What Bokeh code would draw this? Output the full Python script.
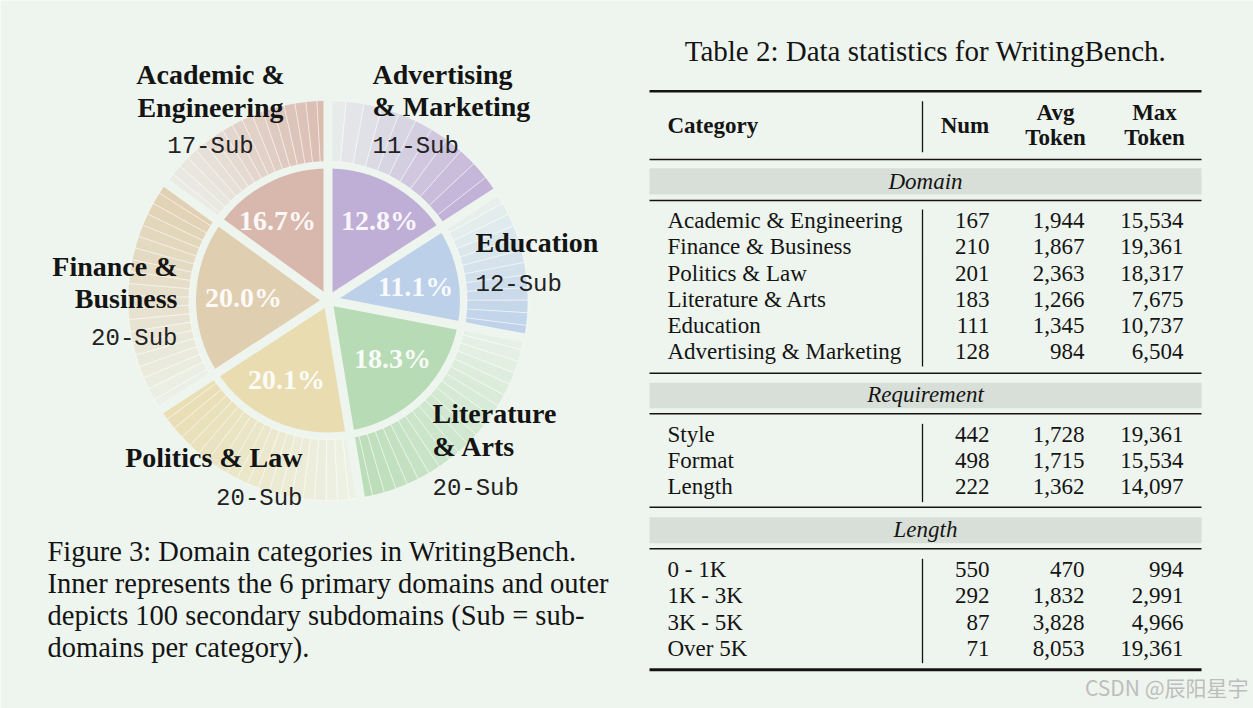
import numpy as np
from bokeh.plotting import figure
from bokeh.models import Range1d
from bokeh.core.properties import value
from bokeh.embed import file_html
from bokeh.resources import INLINE

# ---------------- data ----------------
# pie, clockwise from 12 o'clock
domains = ["Advertising & Marketing", "Education", "Literature & Arts",
           "Politics & Law", "Finance & Business", "Academic & Engineering"]
domain_label_lines = [["Advertising", "& Marketing"], ["Education"], ["Literature", "& Arts"],
                      ["Politics & Law"], ["Finance &", "Business"], ["Academic &", "Engineering"]]
domain_pct_labels = ["12.8%", "11.1%", "18.3%", "20.1%", "20.0%", "16.7%"]
wedge_share = [15.9, 12.1, 19.4, 18.4, 19.2, 15.0]      # share of the circle as drawn (%)
sub_counts = [11, 12, 20, 20, 20, 17]
domain_colors = ["#bfaed6", "#bcd0e9", "#b7dbb5", "#e8dcb0", "#e0ceb0", "#d8b8ad"]

caption_lines = ["Figure 3: Domain categories in WritingBench.",
                 "Inner represents the 6 primary domains and outer",
                 "depicts 100 secondary subdomains (Sub = sub-",
                 "domains per category)."]

table_title = "Table 2: Data statistics for WritingBench."
section_names = ["Domain", "Requirement", "Length"]
domain_rows = ["Academic & Engineering", "Finance & Business", "Politics & Law",
               "Literature & Arts", "Education", "Advertising & Marketing"]
domain_num = [167, 210, 201, 183, 111, 128]
domain_avg = [1944, 1867, 2363, 1266, 1345, 984]
domain_max = [15534, 19361, 18317, 7675, 10737, 6504]
req_rows = ["Style", "Format", "Length"]
req_num = [442, 498, 222]
req_avg = [1728, 1715, 1362]
req_max = [19361, 15534, 14097]
len_rows = ["0 - 1K", "1K - 3K", "3K - 5K", "Over 5K"]
len_num = [550, 292, 87, 71]
len_avg = [470, 1832, 3828, 8053]
len_max = [994, 2991, 4966, 19361]
watermark = "CSDN @辰阳星宇"

# ---------------- style / layout ----------------
BG = "#eef5ee"
INK = "#141414"
SERIF = value("Liberation Serif")
MONO = value("Liberation Mono")
W, H = 1253, 708

def Y(y):  # page-pixel row -> data y
    return H - y

p = figure(width=W, height=H, x_range=Range1d(0, W), y_range=Range1d(0, H),
           output_backend="svg", toolbar_location=None, min_border=0)
p.axis.visible = False
p.grid.visible = False
p.outline_line_color = None
p.background_fill_color = BG
p.border_fill_color = BG

# ---------------- pie ----------------
cx, cy = 327.5, Y(300)
r_in, r_o0, r_o1 = 132, 139, 200
bounds = 90 - 3.6 * np.concatenate([[0], np.cumsum(wedge_share)])

for i, (c, n) in enumerate(zip(domain_colors, sub_counts)):
    a0, a1 = bounds[i], bounds[i + 1]
    # inner wedge
    p.wedge(x=[cx], y=[cy], radius=r_in, start_angle=[np.radians(a1)], end_angle=[np.radians(a0)],
            fill_color=c, line_color=None)
    # outer sub-wedges, alpha increasing clockwise
    edges = np.linspace(a0, a1, n + 1)
    alphas = np.linspace(0.14, 0.95, n)
    p.annular_wedge(x=[cx] * n, y=[cy] * n, inner_radius=r_o0, outer_radius=r_o1,
                    start_angle=np.radians(edges[1:]), end_angle=np.radians(edges[:-1]),
                    fill_color=c, fill_alpha=alphas, line_color="white", line_alpha=0.55,
                    line_width=0.8)

# gaps between domains
p.ray(x=[cx] * 6, y=[cy] * 6, length=215, angle=np.radians(bounds[:-1]),
      line_color=BG, line_width=9)

# percentage labels
pct_pos = [(379, 220), (415, 286), (392, 358), (286, 379), (243, 297), (277, 220)]
p.text(x=[q[0] for q in pct_pos], y=[Y(q[1]) for q in pct_pos], text=domain_pct_labels,
       text_font=SERIF, text_font_style="bold", text_font_size="28px", text_color="white",
       text_align="center", text_baseline="middle", text_alpha=0.92)

# domain name labels and sub counts
name_pos = [  # (x, [line ys], sub y, align)
    (372, [74, 106], 146, "left"),
    (475, [242], 284, "left"),
    (432, [413, 446], 488, "left"),
    (302, [457], 498, "right"),
    (177, [266, 298], 338, "right"),
    (210, [74, 107], 146, "center"),
]
for lines, (x, ys, ysub, al), n in zip(domain_label_lines, name_pos, sub_counts):
    p.text(x=[x] * len(lines), y=[Y(v) for v in ys], text=lines, text_font=SERIF,
           text_font_style="bold", text_font_size="28px", text_color=INK,
           text_align=al, text_baseline="middle")
    p.text(x=[x], y=[Y(ysub)], text=[f"{n}-Sub"], text_font=MONO, text_font_size="24px",
           text_color="#222222", text_align=al, text_baseline="middle")

# caption
p.text(x=[47] * 4, y=[Y(v) for v in (551, 583, 615, 647)], text=caption_lines,
       text_font=SERIF, text_font_size="28.5px", text_color=INK,
       text_align="left", text_baseline="middle")

# ---------------- table ----------------
TL, TR = 649, 1201
p.text(x=[925], y=[Y(50)], text=[table_title], text_font=SERIF, text_font_size="29px",
       text_color=INK, text_align="center", text_baseline="middle")

rules = [(90.7, 2.5), (159, 1.5), (200, 1.5), (372.7, 1.5), (413.3, 1.5),
         (506.7, 1.5), (548.3, 1.5), (669.3, 3)]
for yy, lw in rules:
    p.segment(x0=[TL], x1=[TR], y0=[Y(yy)], y1=[Y(yy)], line_color=INK, line_width=lw)

bands = [(167.7, 194, 180.5), (382.3, 407.7, 394), (516.7, 542.7, 529)]
for (t, b, ym), name in zip(bands, section_names):
    p.quad(left=[TL], right=[TR], top=[Y(t)], bottom=[Y(b)], fill_color="#d8dfd8", line_color=None)
    p.text(x=[925], y=[Y(ym)], text=[name], text_font=SERIF, text_font_style="italic",
           text_font_size="23px", text_color=INK, text_align="center", text_baseline="middle")

vlines = [(100.7, 151.7), (209, 366), (423.3, 501.7), (558.3, 662.7)]
for a, b in vlines:
    p.segment(x0=[922], x1=[922], y0=[Y(a)], y1=[Y(b)], line_color=INK, line_width=1.3)

# header
hdr = dict(text_font=SERIF, text_font_style="bold", text_font_size="23px", text_color=INK,
           text_baseline="middle")
p.text(x=[667], y=[Y(125)], text=["Category"], text_align="left", **hdr)
p.text(x=[964.5], y=[Y(125)], text=["Num"], text_align="center", **hdr)
p.text(x=[1055, 1055, 1154, 1154], y=[Y(111.7), Y(136.7), Y(111.7), Y(136.7)],
       text=["Avg", "Token", "Max", "Token"], text_align="center", **hdr)

body = dict(text_font=SERIF, text_font_size="23px", text_color=INK, text_baseline="middle")
row_blocks = [
    (domain_rows, domain_num, domain_avg, domain_max, 220.3),
    (req_rows, req_num, req_avg, req_max, 433.8),
    (len_rows, len_num, len_avg, len_max, 569.3),
]
for names, nums, avgs, maxs, y0 in row_blocks:
    ys = [Y(y0 + 26.1 * k) for k in range(len(names))]
    p.text(x=[667] * len(names), y=ys, text=names, text_align="left", **body)
    p.text(x=[989] * len(names), y=ys, text=[f"{v:,}" for v in nums], text_align="right", **body)
    p.text(x=[1084] * len(names), y=ys, text=[f"{v:,}" for v in avgs], text_align="right", **body)
    p.text(x=[1183] * len(names), y=ys, text=[f"{v:,}" for v in maxs], text_align="right", **body)

# watermark
p.text(x=[1248], y=[Y(686)], text=[watermark], text_font=value("Noto Sans CJK SC"),
       text_font_size="21px", text_color="#bdbdbd", text_align="right", text_baseline="middle")

open("out.html", "w").write(file_html(p, INLINE))
